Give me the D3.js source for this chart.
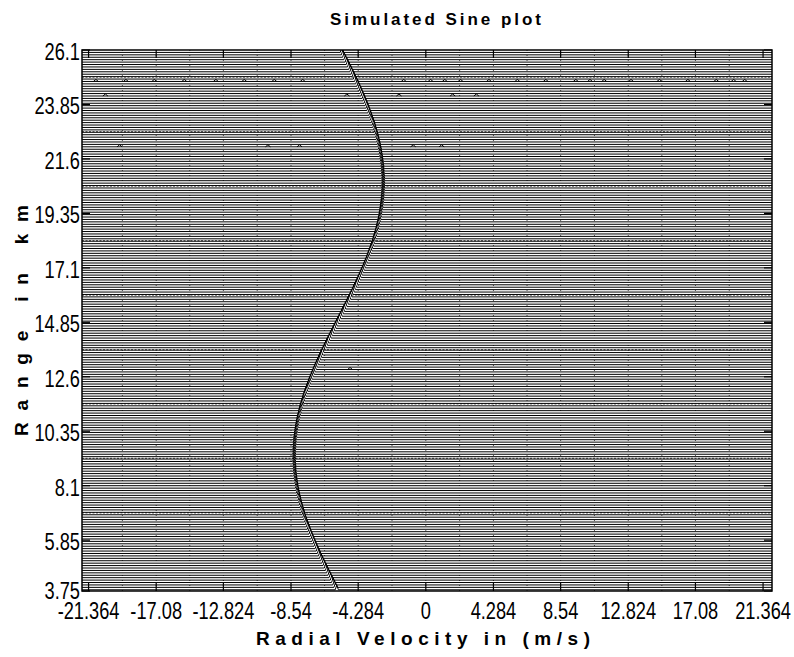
<!DOCTYPE html>
<html>
<head>
<meta charset="utf-8">
<script src="https://cdnjs.cloudflare.com/ajax/libs/d3/7.8.5/d3.min.js"></script>
<style>
  body { margin: 0; background: #fff; }
  svg { display: block; }
  text { font-family: "Liberation Sans", Arial, sans-serif; fill: #000; }
</style>
</head>
<body>
<div id="chart"></div>
<script>
// axis ticks
const xTicks = [-21.364, -17.08, -12.824, -8.54, -4.284, 0, 4.284, 8.54, 12.824, 17.08, 21.364];
const xTickLabels = ["-21.364", "-17.08", "-12.824", "-8.54", "-4.284", "0", "4.284", "8.54", "12.824", "17.08", "21.364"];
const yTicks = [3.75, 5.85, 8.1, 10.35, 12.6, 14.85, 17.1, 19.35, 21.6, 23.85, 26.1];
const yTickLabels = ["3.75", "5.85", "8.1", "10.35", "12.6", "14.85", "17.1", "19.35", "21.6", "23.85", "26.1"];

// vertical dotted grid (ticks and half ticks)
const gridVelocities = [-19.222, -17.08, -14.952, -12.824, -10.682, -8.54, -6.412, -4.284, -2.142, 0,
  2.142, 4.284, 6.412, 8.54, 10.682, 12.824, 14.952, 17.08, 19.222];
// dotted horizontal lines
const dottedRanges = [6.975, 9.225, 11.475, 13.725, 15.975, 18.225, 20.475, 22.725, 24.975];

// range gates: first gate and spacing (km)
const gateStart = 3.8, gateStep = 0.1;
// peak velocity (m/s) of each gate, from 3.8 km upward
const peakVelocity = [
  -5.64, -5.72,
  -5.79, -5.87, -5.95, -6.03, -6.10, -6.18, -6.26, -6.33, -6.41, -6.48,
  -6.55, -6.63, -6.70, -6.77, -6.84, -6.91, -6.98, -7.04, -7.11, -7.17,
  -7.23, -7.30, -7.36, -7.41, -7.47, -7.53, -7.58, -7.64, -7.69, -7.74,
  -7.78, -7.83, -7.87, -7.92, -7.96, -7.99, -8.03, -8.07, -8.10, -8.13,
  -8.16, -8.18, -8.21, -8.23, -8.25, -8.27, -8.29, -8.30, -8.31, -8.32,
  -8.33, -8.34, -8.34, -8.34, -8.34, -8.34, -8.33, -8.32, -8.31, -8.30,
  -8.29, -8.27, -8.25, -8.23, -8.21, -8.18, -8.16, -8.13, -8.10, -8.07,
  -8.03, -7.99, -7.96, -7.92, -7.87, -7.83, -7.78, -7.74, -7.69, -7.64,
  -7.58, -7.53, -7.47, -7.41, -7.36, -7.30, -7.23, -7.17, -7.11, -7.04,
  -6.98, -6.91, -6.84, -6.77, -6.70, -6.63, -6.55, -6.48, -6.41, -6.33,
  -6.26, -6.18, -6.10, -6.03, -5.95, -5.87, -5.79, -5.72, -5.64, -5.56,
  -5.48, -5.40, -5.32, -5.25, -5.17, -5.09, -5.01, -4.94, -4.86, -4.78,
  -4.71, -4.63, -4.56, -4.49, -4.41, -4.34, -4.27, -4.20, -4.13, -4.07,
  -4.00, -3.93, -3.87, -3.81, -3.74, -3.68, -3.63, -3.57, -3.51, -3.46,
  -3.41, -3.35, -3.30, -3.26, -3.21, -3.17, -3.12, -3.08, -3.05, -3.01,
  -2.97, -2.94, -2.91, -2.88, -2.86, -2.83, -2.81, -2.79, -2.77, -2.75,
  -2.74, -2.73, -2.72, -2.71, -2.70, -2.70, -2.70, -2.70, -2.70, -2.71,
  -2.72, -2.73, -2.74, -2.75, -2.77, -2.79, -2.81, -2.83, -2.86, -2.88,
  -2.91, -2.94, -2.97, -3.01, -3.05, -3.08, -3.12, -3.17, -3.21, -3.26,
  -3.30, -3.35, -3.41, -3.46, -3.51, -3.57, -3.63, -3.68, -3.74, -3.81,
  -3.87, -3.93, -4.00, -4.07, -4.13, -4.20, -4.27, -4.34, -4.41, -4.49,
  -4.56, -4.63, -4.71, -4.78, -4.86, -4.94, -5.01, -5.09, -5.17, -5.25,
  -5.32
];

// small noise bumps on some gates
const bumpRange = [
  24.8, 24.8, 24.8, 24.8, 24.8, 24.8, 24.8, 24.8, 24.8, 24.8, 24.8, 24.8,
  24.8, 24.8, 24.8, 24.8, 24.8, 24.8, 24.8, 24.8, 24.8, 24.8, 24.8, 24.8,
  24.2, 24.2, 24.2, 24.2, 24.2, 22.1, 22.1, 22.1, 22.1, 22.1, 12.9
];
const bumpVelocity = [
  -20.9, -19.0, -17.2, -15.3, -13.3, -11.5, -9.6, -7.8, 0.3, 2.2, 4.0, 5.8,
  7.6, 9.5, 11.3, 13.0, 14.8, 16.6, 18.4, 20.2, -1.4, 1.2, 10.4, 19.5,
  -20.3, -5.0, -1.7, 1.7, 3.2, -19.4, -10.0, -8.0, -0.8, 1.0, -4.8
];

const width = 794, height = 657;
const svg = d3.select("#chart").append("svg")
  .attr("width", width).attr("height", height);

const x = d3.scaleLinear().domain([-21.78, 21.93]).range([82, 772]);
const y = d3.scaleLinear().domain([3.75, 26.1]).range([591, 50]);

svg.append("defs").append("clipPath").attr("id", "plotClip")
  .append("rect").attr("x", 82).attr("y", 50).attr("width", 690).attr("height", 541);

const plot = svg.append("g").attr("clip-path", "url(#plotClip)");

// vertical dotted grid
plot.selectAll(".vgrid").data(gridVelocities).enter().append("line")
  .attr("x1", d => x(d)).attr("x2", d => x(d))
  .attr("y1", 50).attr("y2", 591)
  .attr("stroke", "#555").attr("stroke-width", 1)
  .attr("stroke-dasharray", "1,4");

// horizontal dotted lines
plot.selectAll(".hgrid").data(dottedRanges).enter().append("line")
  .attr("x1", 82).attr("x2", 772)
  .attr("y1", d => y(d)).attr("y2", d => y(d))
  .attr("stroke", "#666").attr("stroke-width", 1.2)
  .attr("stroke-dasharray", "2,1.5");

// spectrum of every range gate with its peak
const peakHalf = 0.1, peakHeight = 5;
const line = d3.line();
plot.selectAll(".gate").data(peakVelocity).enter().append("path")
  .attr("d", (v, i) => {
    const y0 = y(gateStart + i * gateStep);
    return line([[82, y0], [x(v - peakHalf), y0], [x(v), y0 - peakHeight],
      [x(v + peakHalf), y0], [772, y0]]);
  })
  .attr("fill", "none").attr("stroke", "#000").attr("stroke-width", 1);

// noise bumps
plot.selectAll(".bump").data(bumpVelocity).enter().append("path")
  .attr("d", (v, i) => {
    const y0 = y(bumpRange[i]);
    return line([[x(v) - 2.5, y0], [x(v), y0 - 2], [x(v) + 2.5, y0]]);
  })
  .attr("fill", "none").attr("stroke", "#000").attr("stroke-width", 1);

// inward tick marks
const ticks = svg.append("g").attr("stroke", "#000").attr("stroke-width", 1.2);
xTicks.forEach(t => {
  ticks.append("line").attr("x1", x(t)).attr("x2", x(t)).attr("y1", 50).attr("y2", 58);
  ticks.append("line").attr("x1", x(t)).attr("x2", x(t)).attr("y1", 591).attr("y2", 583);
});
yTicks.forEach(t => {
  ticks.append("line").attr("x1", 82).attr("x2", 90).attr("y1", y(t)).attr("y2", y(t));
  ticks.append("line").attr("x1", 772).attr("x2", 764).attr("y1", y(t)).attr("y2", y(t));
});

// frame
svg.append("rect").attr("x", 82).attr("y", 50).attr("width", 690).attr("height", 541)
  .attr("fill", "none").attr("stroke", "#000").attr("stroke-width", 1.5);

// tick labels (narrow look)
svg.selectAll(".xlab").data(xTicks).enter().append("text")
  .attr("transform", d => "translate(" + x(d) + ",619) scale(0.76,1)")
  .attr("text-anchor", "middle")
  .style("font-size", "24px")
  .text((d, i) => xTickLabels[i]);

svg.selectAll(".ylab").data(yTicks).enter().append("text")
  .attr("transform", d => "translate(80," + (y(d) + (d === 3.75 ? 8 : 10)) + ") scale(0.76,1)")
  .attr("text-anchor", "end")
  .style("font-size", "24px")
  .text((d, i) => yTickLabels[i]);

// title and axis labels
svg.append("text")
  .attr("x", 330).attr("y", 25)
  .attr("textLength", 211).attr("lengthAdjust", "spacing")
  .style("font-size", "17px").style("font-weight", "bold")
  .text("Simulated Sine plot");

svg.append("text")
  .attr("x", 256).attr("y", 645)
  .attr("textLength", 334).attr("lengthAdjust", "spacing")
  .style("font-size", "19px").style("font-weight", "bold")
  .text("Radial Velocity in (m/s)");

svg.append("text")
  .attr("transform", "translate(28,436) rotate(-90)")
  .attr("textLength", 231).attr("lengthAdjust", "spacing")
  .style("font-size", "19px").style("font-weight", "bold")
  .text("Range in km");
</script>
</body>
</html>
